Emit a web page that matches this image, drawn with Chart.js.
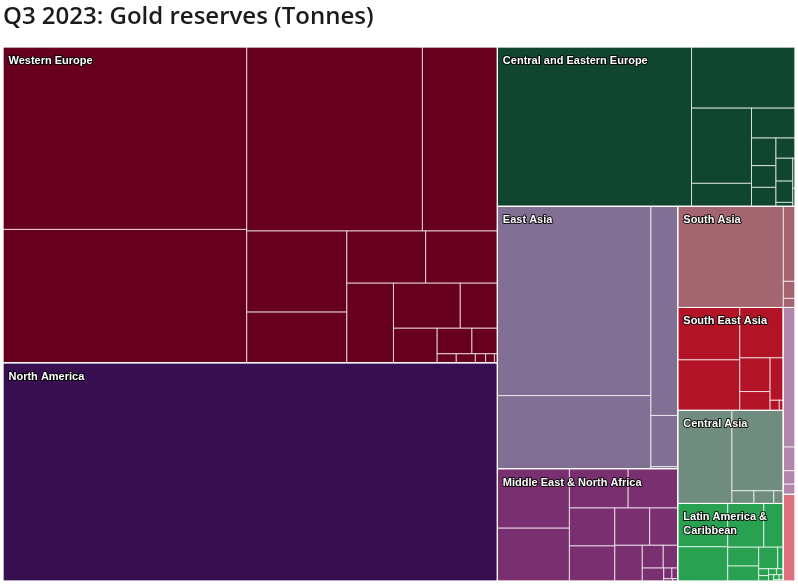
<!DOCTYPE html>
<html lang="en">
<head>
    <meta charset="UTF-8">
    <title>Q3 2023: Gold reserves (Tonnes)</title>
    <script src="https://cdn.jsdelivr.net/npm/chart.js@4.4.0/dist/chart.umd.min.js"></script>
    <style>
        body { margin: 0; background: #fff; }
        #wrap { width: 798px; height: 585px; }
    </style>
</head>
<body>
    <div id="wrap">
        <canvas id="reservesChart"></canvas>
    </div>

    <script>
        // Regions, in the order the treemap lays them out
        const regions = ['Western Europe', 'North America', 'Central and Eastern Europe', 'East Asia',
            'Middle East & North Africa', 'South Asia', 'South East Asia', 'Central Asia',
            'Latin America & Caribbean', 'Sub-Saharan Africa', 'Oceania'];
        const regionColors = ['#67001f', '#370e4f', '#10452f', '#827094', '#7a3070', '#a3656f',
            '#b31327', '#6f8c7e', '#28a251', '#b386ad', '#de7080'];

        // Tonnes per country
        const westernEuropeNames = ['Germany', 'Italy', 'France', 'Switzerland', 'Netherlands', 'Portugal',
            'United Kingdom', 'Spain', 'Austria', 'Belgium', 'Sweden', 'Greece', 'Denmark', 'Finland',
            'Cyprus', 'Latvia', 'Lithuania', 'Ireland', 'Luxembourg'];
        const westernEurope = [3353, 2452, 2437, 1040, 612, 383, 310, 282, 280, 227, 126, 114, 67, 49, 13, 13, 7, 6, 2];

        const northAmericaNames = ['United States'];
        const northAmerica = [8133];

        const easternEuropeNames = ['Russia', 'Turkey', 'Poland', 'Romania', 'Hungary', 'Belarus', 'Bulgaria',
            'Serbia', 'Slovakia', 'Czech Republic', 'Ukraine', 'North Macedonia', 'Slovenia', 'Albania'];
        const easternEurope = [2333, 477, 340, 104, 98, 51, 40, 35, 29, 29, 27, 5, 5, 3];

        const eastAsiaNames = ['China', 'Japan', 'Taiwan', 'South Korea', 'Hong Kong'];
        const eastAsia = [2192, 846, 424, 104, 4];

        const menaNames = ['Saudi Arabia', 'Lebanon', 'Algeria', 'Iraq', 'Egypt', 'Libya', 'Qatar', 'Kuwait',
            'UAE', 'Jordan', 'Syria', 'Morocco', 'Tunisia', 'Bahrain', 'Yemen', 'Mauritania'];
        const mena = [323, 287, 174, 147, 130, 120, 98, 79, 74, 36, 25, 21, 6.5, 4.7, 1.6, 0.9];

        const southAsiaNames = ['India', 'Pakistan', 'Bangladesh', 'Nepal'];
        const southAsia = [805, 66, 15, 8];

        const southEastAsiaNames = ['Thailand', 'Singapore', 'Philippines', 'Indonesia', 'Malaysia', 'Cambodia', 'Myanmar', 'Laos'];
        const southEastAsia = [245, 236, 165, 77, 43, 42, 7, 3];

        const centralAsiaNames = ['Uzbekistan', 'Kazakhstan', 'Kyrgyzstan', 'Tajikistan', 'Mongolia'];
        const centralAsia = [380, 311, 21, 19, 9];

        const latinAmericaNames = ['Venezuela', 'Brazil', 'Mexico', 'Argentina', 'Bolivia', 'Peru', 'Ecuador',
            'Colombia', 'Guatemala', 'Paraguay', 'Aruba', 'El Salvador', 'Trinidad and Tobago', 'Suriname',
            'Dominican Republic', 'Haiti'];
        const latinAmerica = [163, 129, 119, 64, 44, 35, 31, 9, 5, 4, 3.5, 3, 2.5, 2, 1.5, 1];

        const subSaharanAfricaNames = ['South Africa', 'Nigeria', 'Mauritius', 'Ghana'];
        const subSaharanAfrica = [124, 21, 12, 9];

        const oceaniaNames = ['Australia'];
        const oceania = [77];

        const regionValues = [westernEurope, northAmerica, easternEurope, eastAsia, mena, southAsia,
            southEastAsia, centralAsia, latinAmerica, subSaharanAfrica, oceania];

        // Squarified layout (strip based, alternating direction)
        function squarified(parent, values) {
            const total = values.reduce((a, b) => a + b, 0);
            const out = [];
            const plot = { x: parent.x, y: parent.y };
            const g = {
                width: parent.width, height: parent.height, direction: parent.direction,
                total: 0, nW: 0, lW: 0, nH: 0, lH: 0, elArr: [],
                lP: { total: 0, lH: 0, nH: 0, lW: 0, nW: 0, nR: 0, lR: 0 }
            };
            const ratio = (w, h) => Math.max(w / h, h / w);

            function add(el) {
                g.lP.total = g.elArr[g.elArr.length - 1];
                g.total += el;
                if (g.direction === 0) {
                    g.lW = g.nW;
                    g.lP.lH = g.lP.total / g.lW;
                    g.lP.lR = ratio(g.lW, g.lP.lH);
                    g.nW = g.total / g.height;
                    g.lP.nH = g.lP.total / g.nW;
                    g.lP.nR = ratio(g.nW, g.lP.nH);
                } else {
                    g.lH = g.nH;
                    g.lP.lW = g.lP.total / g.lH;
                    g.lP.lR = ratio(g.lP.lW, g.lH);
                    g.nH = g.total / g.width;
                    g.lP.nW = g.lP.total / g.nH;
                    g.lP.nR = ratio(g.lP.nW, g.nH);
                }
                g.elArr.push(el);
            }

            function calc(last) {
                let gW = g.lW, gH = g.lH, keep;
                if (last) {
                    gW = g.nW;
                    gH = g.nH;
                } else {
                    keep = g.elArr[g.elArr.length - 1];
                }
                const end = g.elArr.length - 1;
                g.elArr.forEach((p, i) => {
                    if (last || i < end) {
                        let w, h;
                        if (g.direction === 0) { w = gW; h = p / w; } else { h = gH; w = p / h; }
                        out.push({ x: plot.x, y: plot.y, width: w, height: h });
                        if (g.direction === 0) plot.y += h; else plot.x += w;
                    }
                });
                g.nW = 0; g.lW = 0; g.elArr = []; g.total = 0;
                if (g.direction === 0) g.width -= gW; else g.height -= gH;
                plot.y = parent.y + (parent.height - g.height);
                plot.x = parent.x + (parent.width - g.width);
                g.direction = 1 - g.direction;
                if (!last) add(keep);
            }

            values.forEach((v, i) => {
                add(parent.width * parent.height * (v / total));
                if (g.lP.nR > g.lP.lR) calc(false);
                if (i === values.length - 1) calc(true);
            });
            return out;
        }

        const sum = arr => arr.reduce((a, b) => a + b, 0);

        function wrapText(ctx, text, maxWidth) {
            const words = text.split(' ');
            const lines = [];
            let line = '';
            for (const word of words) {
                const test = line ? line + ' ' + word : word;
                if (ctx.measureText(test).width <= maxWidth || !line) {
                    line = test;
                } else {
                    lines.push(line);
                    line = word;
                }
            }
            if (line) lines.push(line);
            return lines;
        }

        const treemapPlugin = {
            id: 'treemap',
            afterDatasetsDraw(chart) {
                const { ctx } = chart;
                const xs = chart.scales.x, ys = chart.scales.y;
                const axisRatio = (xs.right - xs.left) / (ys.bottom - ys.top);
                const root = { x: 0, y: 0, width: 100 * axisRatio, height: 100, direction: 0 };

                const toPixels = r => {
                    const x0 = xs.getPixelForValue(r.x / axisRatio);
                    const x1 = xs.getPixelForValue((r.x + r.width) / axisRatio);
                    const y0 = ys.getPixelForValue(r.y);
                    const y1 = ys.getPixelForValue(r.y + r.height);
                    return { left: x0, top: y0, w: x1 - x0, h: y1 - y0 };
                };

                const regionRects = squarified(root, regionValues.map(sum));

                ctx.save();
                // Countries
                regionRects.forEach((rr, i) => {
                    const cells = squarified({ ...rr, direction: 0 }, regionValues[i]);
                    cells.forEach(c => {
                        const p = toPixels(c);
                        ctx.fillStyle = regionColors[i];
                        ctx.fillRect(p.left, p.top, p.w, p.h);
                        ctx.strokeStyle = 'rgba(255, 255, 255, 0.7)';
                        ctx.lineWidth = 1;
                        ctx.strokeRect(p.left, p.top, p.w, p.h);
                    });
                });
                // Region outlines
                regionRects.forEach(rr => {
                    const p = toPixels(rr);
                    ctx.strokeStyle = 'rgba(255, 255, 255, 0.9)';
                    ctx.lineWidth = 1;
                    ctx.strokeRect(p.left, p.top, p.w, p.h);
                });
                // Region labels
                ctx.font = 'bold 11px "Liberation Sans", Arial, sans-serif';
                ctx.textBaseline = 'alphabetic';
                ctx.lineJoin = 'round';
                regionRects.forEach((rr, i) => {
                    const p = toPixels(rr);
                    const lines = wrapText(ctx, regions[i], p.w - 10);
                    const fits = lines.every(l => ctx.measureText(l).width <= p.w - 10) && lines.length * 14 + 8 < p.h;
                    if (!fits) return;
                    lines.forEach((line, k) => {
                        const tx = p.left + 5.5, ty = p.top + 17 + k * 14;
                        ctx.strokeStyle = 'rgba(0, 0, 0, 0.85)';
                        ctx.lineWidth = 2;
                        ctx.strokeText(line, tx, ty);
                        ctx.fillStyle = '#ffffff';
                        ctx.fillText(line, tx, ty);
                    });
                });
                ctx.restore();
            }
        };

        new Chart(document.getElementById('reservesChart'), {
            type: 'scatter',
            data: { datasets: [] },
            plugins: [treemapPlugin],
            options: {
                responsive: true,
                maintainAspectRatio: false,
                animation: false,
                layout: { padding: { left: 3, right: 3, top: 0, bottom: 4 } },
                scales: {
                    x: { type: 'linear', min: 0, max: 100, display: false },
                    y: { type: 'linear', min: 0, max: 100, reverse: true, display: false }
                },
                plugins: {
                    legend: { display: false },
                    tooltip: { enabled: false },
                    title: {
                        display: true,
                        text: 'Q3 2023: Gold reserves (Tonnes)',
                        align: 'start',
                        color: '#1b1b1b',
                        font: { family: "'Open Sans', sans-serif", size: 24, weight: '600' },
                        padding: { top: 3, bottom: 15.2 }
                    }
                }
            }
        });
    </script>
</body>
</html>
